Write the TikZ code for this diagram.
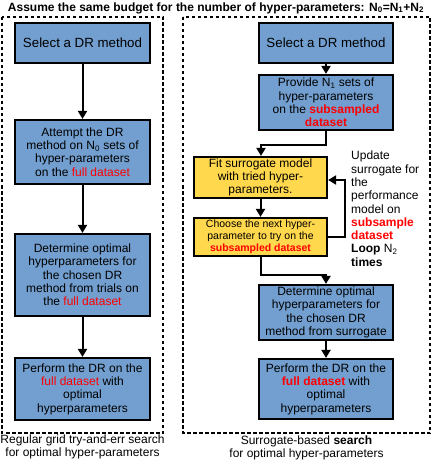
\documentclass[tikz,border=0pt]{standalone}
\usepackage{fontspec}
\setmainfont{Liberation Sans}
\usetikzlibrary{arrows.meta}
\definecolor{boxblue}{HTML}{729FCF}
\definecolor{boxyellow}{HTML}{FFD84D}
\definecolor{hl}{HTML}{FF0000}
\newcommand{\hlr}[1]{\textcolor{hl}{#1}}
\newcommand{\hlb}[1]{\textbf{\textcolor{hl}{#1}}}
\tikzset{
  box/.style={draw=black, line width=2.2pt, inner sep=0pt, align=center,
    font=\fontsize{12}{13.3}\selectfont},
  bluebox/.style={box, fill=boxblue},
  yellowbox/.style={box, fill=boxyellow},
  frame/.style={draw=black, line width=1.1pt, dash pattern=on 3.5pt off 2.5pt},
  conn/.style={line width=2pt, -{Triangle[length=8pt,width=9pt]}},
  plain/.style={inner sep=0pt, align=center, font=\fontsize{12}{12.5}\selectfont}
}
\begin{document}
\begin{tikzpicture}[x=1pt,y=-1pt]
\useasboundingbox (0,0) rectangle (432,462);
% title
\node[inner sep=0pt, font=\bfseries\fontsize{12}{14}\selectfont] (title) at (216,8)
  {Assume the same budget for the number of hyper-parameters: N\textsubscript{0}=N\textsubscript{1}+N\textsubscript{2}};
% frames
\draw[frame] (2,17) rectangle (163,433);
\draw[frame] (183,17) rectangle (430,433);
% left column
\node[bluebox, minimum width=135pt, minimum height=40pt, font=\fontsize{13.3}{15}\selectfont] (L1) at (82.5,43) {Select a DR method};
\node[bluebox, minimum width=135pt, minimum height=64pt] (L2) at (82.5,152)
  {Attempt the DR\\method on N\textsubscript{0} sets of\\hyper-parameters\\on the \hlr{full dataset}};
\node[bluebox, minimum width=135pt, minimum height=82pt] (L3) at (82.5,275)
  {Determine optimal\\hyperparameters for\\the chosen DR\\method from trials on\\the \hlr{full dataset}};
\node[bluebox, minimum width=135pt, minimum height=62pt] (L4) at (82.5,389)
  {Perform the DR on the\\\hlr{full dataset} with\\optimal\\hyperparameters};
\draw[conn] (L1) -- (L2);
\draw[conn] (L2) -- (L3);
\draw[conn] (L3) -- (L4);
% right column
\node[bluebox, minimum width=134pt, minimum height=40pt, font=\fontsize{13.3}{15}\selectfont] (R1) at (326,43) {Select a DR method};
\node[bluebox, minimum width=134pt, minimum height=55pt] (R2) at (326,102.5)
  {Provide N\textsubscript{1} sets of\\hyper-parameters\\on the \hlb{subsampled}\\\hlb{dataset}};
\node[yellowbox, minimum width=133pt, minimum height=41pt] (Y1) at (260.5,177.5)
  {Fit surrogate model\\with tried hyper-\\parameters.};
\node[yellowbox, minimum width=133pt, minimum height=38pt, font=\fontsize{10.5}{11.8}\selectfont] (Y2) at (260.5,237)
  {Choose the next hyper-\\parameter to try on the\\\hlb{subsampled dataset}};
\node[bluebox, minimum width=134pt, minimum height=55pt] (R3) at (326,312.5)
  {Determine optimal\\hyperparameters for\\the chosen DR\\method from surrogate};
\node[bluebox, minimum width=134pt, minimum height=60pt] (R4) at (326,389)
  {Perform the DR on the\\\hlb{full dataset} with\\optimal\\hyperparameters};
\coordinate (e1) at (261,145);
\coordinate (lp) at (345,180);
\coordinate (e2) at (326,275);
\draw[conn] (R1) -- (R2);
\draw[conn] (R2.south) |- (e1) -- (e1 |- Y1.north);
\draw[conn] (Y1) -- (Y2);
\draw[conn] (Y2.east) -| (lp) -- (lp -| Y1.east);
\draw[conn] (Y2.south) |- (e2) -- (R3.north);
\draw[conn] (R3) -- (R4);
% side note
\node[inner sep=0pt, anchor=north west, align=left, font=\fontsize{12}{13.3}\selectfont] (note) at (351,151)
  {Update\\surrogate for\\the\\performance\\model on\\\hlb{subsample}\\\hlb{dataset}\\\textbf{Loop} N\textsubscript{2}\\\textbf{times}};
% captions
\node[plain] (capL) at (82.5,447) {Regular grid try-and-err search\\for optimal hyper-parameters};
\node[plain] (capR) at (306.5,448) {Surrogate-based \textbf{search}\\for optimal hyper-parameters};
\end{tikzpicture}
\end{document}
